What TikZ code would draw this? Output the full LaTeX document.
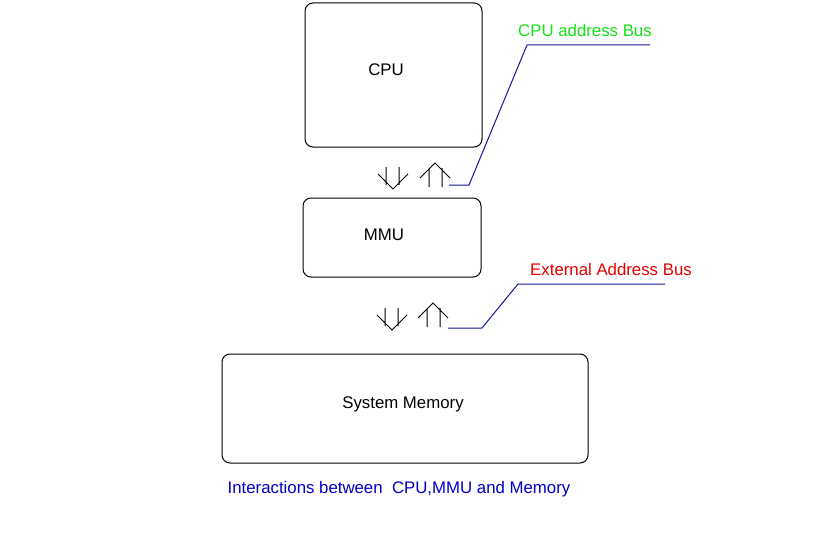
\documentclass[tikz,border=0pt]{standalone}
\usepackage{fontspec}
\setmainfont{Liberation Sans}
\definecolor{lblgreen}{RGB}{20,225,20}
\definecolor{lblred}{RGB}{230,0,0}
\definecolor{capblue}{RGB}{0,0,200}
\definecolor{leadblue}{RGB}{20,20,160}
\tikzset{
  box/.style={draw, rounded corners=8pt, line width=1pt},
  boxtext/.style={font=\fontsize{16.8}{19}\selectfont},
  lbl/.style={font=\fontsize{16.8}{19}\selectfont, inner sep=0pt},
  leader/.style={draw=leadblue, line width=1pt},
  downarr/.pic={\draw[line width=1pt] (-7,-22)--(-7,-4) (6,-22)--(6,-4) (-15,-15)--(0,0)--(15,-15);},
  uparr/.pic={\draw[line width=1pt] (-6,24)--(-6,5) (7,24)--(7,5) (-15,15)--(0,0)--(15,15);},
}
\begin{document}
\begin{tikzpicture}[x=1pt,y=-1pt]
\useasboundingbox (0,0) rectangle (817,543);
\draw[box] (305,3) rectangle (482,147);
\node[boxtext] (cpu) at (386,70) {CPU};
\draw[box] (303,198) rectangle (481,277);
\node[boxtext] (mmu) at (384,235) {MMU};
\draw[box] (222,354) rectangle (588,463);
\node[boxtext] (mem) at (403,404) {System Memory};
\pic at (393,189) {downarr};
\pic at (435,163) {uparr};
\pic at (392,330) {downarr};
\pic at (433,303) {uparr};
\node[lbl, text=lblgreen] (cab) at (585,30) {CPU address Bus};
\node[lbl, text=lblred] (eab) at (611,269) {External Address Bus};
\coordinate (c1) at (449,185);
\coordinate (c2) at (469,185);
\coordinate (c3) at (527,45);
\coordinate (c4) at (650,45);
\draw[leader] (c1)--(c2)--(c3)--(c4);
\coordinate (e1) at (448,328);
\coordinate (e2) at (482,328);
\coordinate (e3) at (518,284);
\coordinate (e4) at (665,284);
\draw[leader] (e1)--(e2)--(e3)--(e4);
\node[lbl, text=capblue] (cap) at (399,489) {Interactions between\ \ CPU,MMU and Memory};
\end{tikzpicture}
\end{document}
